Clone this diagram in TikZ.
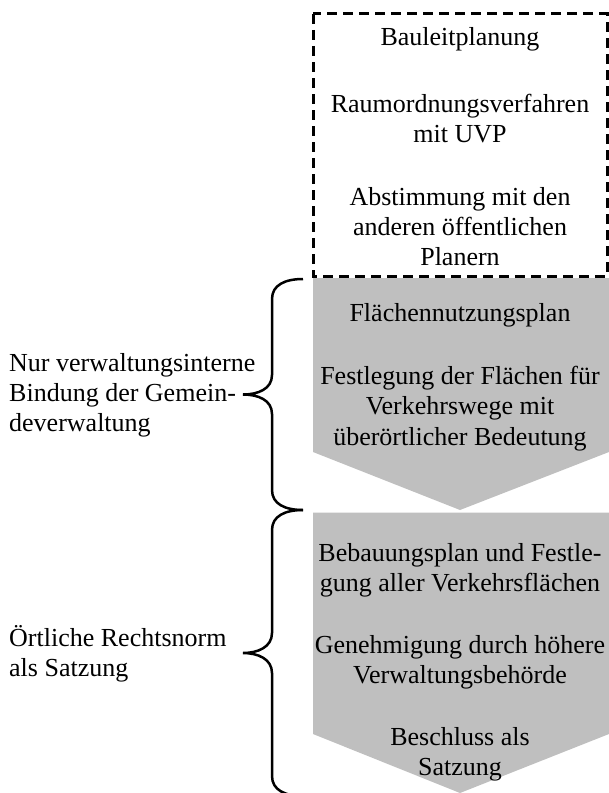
\documentclass[tikz,border=0pt]{standalone}
\usepackage{fontspec}
\setmainfont{Liberation Serif}
\definecolor{panelgray}{RGB}{191,191,191}
\tikzset{
  txt/.style={font=\fontsize{26bp}{30bp}\selectfont, inner sep=0pt, anchor=base},
  lefttxt/.style={txt, anchor=base west},
  panel/.style={fill=panelgray, draw=none},
  dashbox/.style={draw=black, line width=3bp, dash pattern=on 10bp off 6bp},
  bracepath/.style={draw=black, line width=2.5bp}
}
\begin{document}
\begin{tikzpicture}[x=1bp,y=-1bp]
\useasboundingbox (0,0) rectangle (609,793);
% shapes
\path[panel] (313,278) -- (609,278) -- (609,452) -- (460,510) -- (313,452) -- cycle;
\path[panel] (313,512.5) -- (609,512.5) -- (609,734) -- (460,793) -- (313,734) -- cycle;
\draw[dashbox] (313,14) rectangle (607,276);
% braces
\draw[bracepath] (303,279) .. controls (285,279) and (272,285) .. (272,299) -- (272,375)
  .. controls (272,389) and (258,394.5) .. (243,394.5)
  .. controls (258,394.5) and (272,400) .. (272,414) -- (272,490)
  .. controls (272,504) and (285,510) .. (303,510);
\draw[bracepath] (303,510) .. controls (285,510) and (272,516) .. (272,530) -- (272,633)
  .. controls (272,647) and (258,653) .. (243,653)
  .. controls (258,653) and (272,659) .. (272,673) -- (272,776)
  .. controls (272,790) and (285,796) .. (303,796);
% dashed box texts
\node[txt] (d1) at (460,46) {Bauleitplanung};
\node[txt] (d2) at (460,112) {Raumordnungsverfahren};
\node[txt] (d3) at (460,142) {mit UVP};
\node[txt] (d4) at (460,205) {Abstimmung mit den};
\node[txt] (d5) at (460,235) {anderen öffentlichen};
\node[txt] (d6) at (460,265) {Planern};
% first panel
\node[txt] (f1) at (460,321) {Flächennutzungsplan};
\node[txt] (f2) at (460,384) {Festlegung der Flächen für};
\node[txt] (f3) at (460,414) {Verkehrswege mit};
\node[txt] (f4) at (460,445) {überörtlicher Bedeutung};
% second panel
\node[txt] (b1) at (460,561) {Bebauungsplan und Festle-};
\node[txt] (b2) at (460,591) {gung aller Verkehrsflächen};
\node[txt] (b3) at (460,653) {Genehmigung durch höhere};
\node[txt] (b4) at (460,683) {Verwaltungsbehörde};
\node[txt] (b5) at (460,745) {Beschluss als};
\node[txt] (b6) at (460,775) {Satzung};
% left labels
\node[lefttxt] (l1) at (9,371) {Nur verwaltungsinterne};
\node[lefttxt] (l2) at (9,401) {Bindung der Gemein-};
\node[lefttxt] (l3) at (9,431) {deverwaltung};
\node[lefttxt] (l4) at (9,646) {Örtliche Rechtsnorm};
\node[lefttxt] (l5) at (9,676) {als Satzung};
\end{tikzpicture}
\end{document}
